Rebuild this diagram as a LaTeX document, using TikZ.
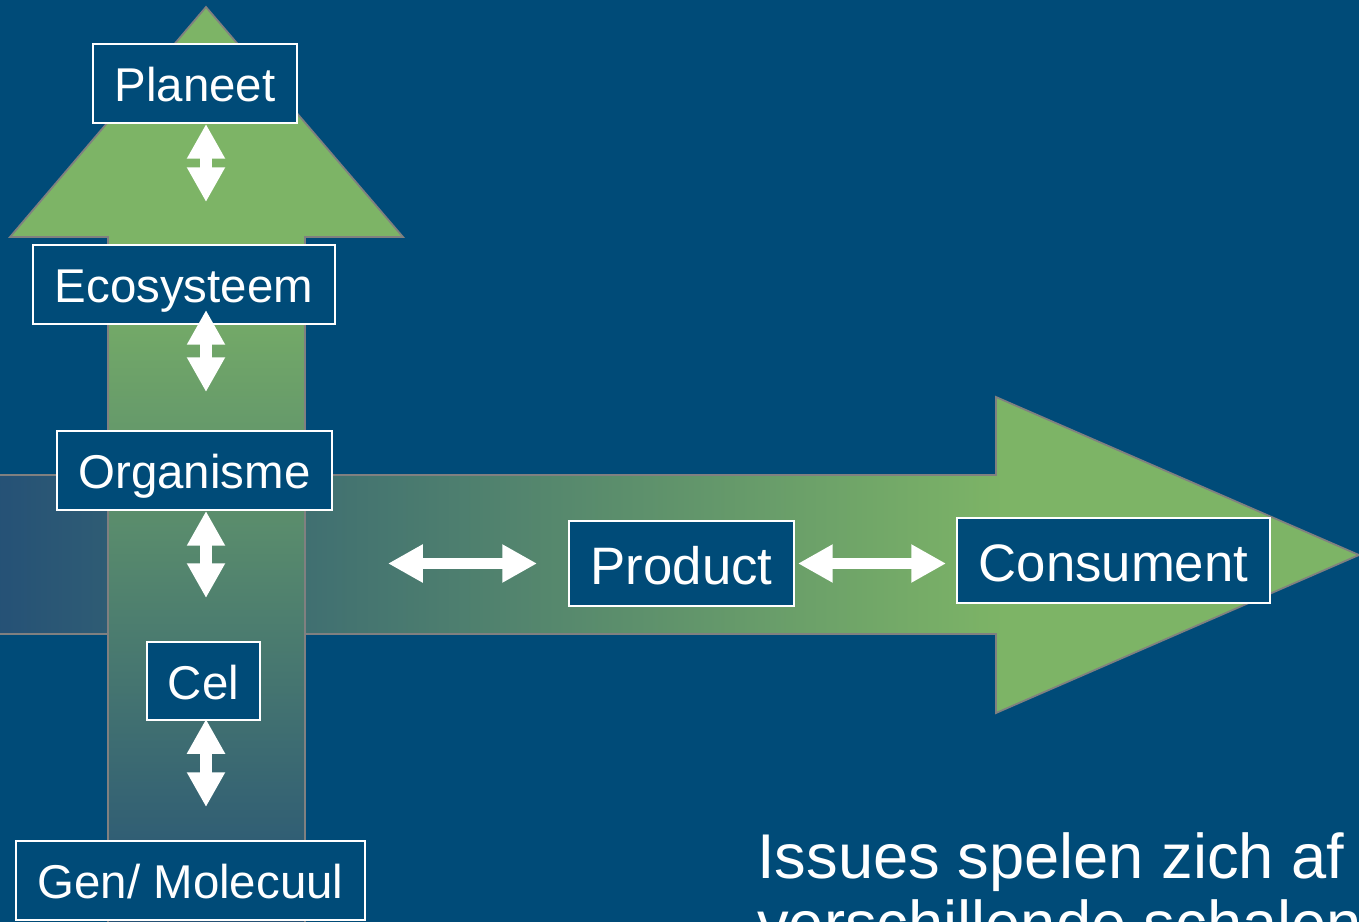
\documentclass[tikz,border=0pt]{standalone}
\usepackage{fontspec}
\setmainfont{Liberation Sans}
\usetikzlibrary{arrows.meta}

\definecolor{bgblue}{RGB}{0,75,120}
\definecolor{arrgreen}{RGB}{125,180,102}
\definecolor{arrdark}{RGB}{37,81,118}
\pgfdeclarehorizontalshading{hshade}{100bp}{color(0bp)=(arrdark); color(25bp)=(arrdark); color(62bp)=(arrgreen); color(100bp)=(arrgreen)}
\pgfdeclareverticalshading{vshade}{100bp}{color(0bp)=(arrdark); color(25bp)=(arrdark); color(62bp)=(arrgreen); color(100bp)=(arrgreen)}

\begin{document}
\begin{tikzpicture}[x=0.02cm,y=-0.02cm,
  levelbox/.style={draw=white,line width=1.1pt,fill=bgblue,text=white,inner sep=0pt,
    minimum height=1.58cm,text height=22pt,text depth=1pt,font=\fontsize{27}{30}\selectfont},
  chainbox/.style={levelbox,minimum height=1.7cm,text height=25pt,text depth=0.6pt,
    font=\fontsize{30}{34}\selectfont},
  dbl/.style={white,line width=6.8pt,
    {Triangle[length=19.8pt,width=20.4pt]}-{Triangle[length=19.8pt,width=20.4pt]}},
  bigarrow/.style={draw=gray,line width=1pt,shade}]

\fill[bgblue] (0,0) rectangle (1359,922);
\useasboundingbox (0,0) rectangle (1359,922);

% horizontal arrow (chain)
\path[bigarrow,shading=hshade] (-5,475) -- (996,475) -- (996,397) -- (1359,555)
  -- (996,713) -- (996,634) -- (-5,634) -- cycle;

% vertical arrow (levels)
\path[bigarrow,shading=vshade] (108,930) -- (108,237) -- (10,237) -- (206,7)
  -- (403,237) -- (305,237) -- (305,930) -- cycle;

\node[levelbox,minimum width=4.08cm] (planeet) at (195,83.5) {Planeet};
\node[levelbox,minimum width=6.04cm] (ecosys) at (184,284.5) {Ecosysteem};
\node[levelbox,minimum width=5.5cm] (organisme) at (194.5,470.5) {Organisme};
\node[levelbox,minimum width=2.26cm,minimum height=1.56cm] (cel) at (203.5,681) {Cel};
\node[levelbox,minimum width=6.98cm] (gen) at (190.5,880.5) {Gen/ Molecuul};

\node[chainbox,minimum width=4.5cm] (product) at (681.5,563.5) {Product};
\node[chainbox,minimum width=6.26cm] (consument) at (1113.5,560.5) {Consument};

\coordinate (vx) at (206,0);
\coordinate (lend) at (388,563.5);

\draw[dbl,shorten >=0.84cm] (planeet.south -| vx) -- (ecosys.north -| vx);
\draw[dbl,shorten <=-0.3cm,shorten >=0.76cm] (ecosys.south -| vx) -- (organisme.north -| vx);
\draw[dbl,shorten >=0.86cm] (organisme.south -| vx) -- (cel.north -| vx);
\draw[dbl,shorten <=-0.04cm,shorten >=0.66cm] (cel.south -| vx) -- (gen.north -| vx);

\draw[dbl,shorten >=0.62cm] (lend) -- (product.west);
\draw[dbl,shorten <=0.06cm,shorten >=0.2cm] (product.east) -- (product.east -| consument.west);

\begin{scope}
\clip (0,0) rectangle (1359,922);
\node[anchor=base west,align=left,text=white,inner sep=0pt,
  font=\fontsize{36}{38}\selectfont] (issues) at (757,945)
  {Issues spelen zich af\\verschillende schalen};
\end{scope}

\end{tikzpicture}
\end{document}
